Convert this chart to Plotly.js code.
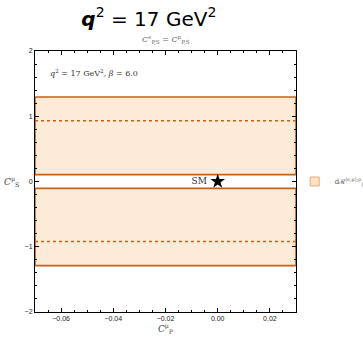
<!DOCTYPE html>
<html><head><meta charset="utf-8">
<script src="https://cdn.plot.ly/plotly-3.0.1.min.js"></script>
<style>html,body{margin:0;padding:0;background:#fff}#c{width:363px;height:340px}</style>
</head><body><div id="c"></div>
<script>
const xRange = [-0.07, 0.03];
const yRange = [-2, 2];
const bandLow = [-1.29, 0.105];
const bandHigh = [-0.105, 1.295];
const dashedLevels = [-0.92, 0.93];
const smPoint = {x: [0.0], y: [0.0]};
const xTickVals = [-0.06, -0.04, -0.02, 0.00, 0.02];
const yTickVals = [-2, -1, 0, 1, 2];

const orange = '#c2621b';
const fill = 'rgba(253,232,208,0.85)';
const traces = [];
bandLow.forEach((lo, i) => {
  const hi = bandHigh[i];
  traces.push({
    x: [xRange[0], xRange[1], xRange[1], xRange[0], xRange[0]],
    y: [lo, lo, hi, hi, lo],
    type: 'scatter', mode: 'lines', fill: 'toself', fillcolor: fill,
    line: {color: orange, width: 1.6},
    showlegend: false, hoverinfo: 'skip'
  });
});
dashedLevels.forEach(v => {
  traces.push({
    x: xRange, y: [v, v], type: 'scatter', mode: 'lines',
    line: {color: orange, width: 1.6, dash: 'dot'}, showlegend: false, hoverinfo: 'skip'
  });
});
traces.push({
  x: smPoint.x, y: smPoint.y, type: 'scatter', mode: 'markers+text',
  marker: {symbol: 'star', size: 11, color: '#000'},
  text: ['SM '], textposition: 'middle left',
  textfont: {family: 'DejaVu Serif, serif', size: 9, color: '#333'},
  showlegend: false, cliponaxis: false
});
// legend entry (square swatch)
traces.push({
  x: [null], y: [null], type: 'scatter', mode: 'markers',
  marker: {symbol: 'square', size: 9, color: 'rgb(252,226,200)', line: {color: 'rgb(235,170,120)', width: 1}},
  name: 'dℛ<sup>⟨e,μ⟩;ρ</sup><sub>⟨e,μ⟩;π</sub>', showlegend: true
});

const axisCommon = {
  showline: true, linecolor: '#000', linewidth: 1, mirror: 'ticks',
  ticks: 'inside', ticklen: 4, tickwidth: 1, tickcolor: '#000',
  showgrid: false, zeroline: false,
  tickfont: {family: 'Liberation Sans, Arial, sans-serif', size: 7, color: '#222'}
};

const layout = {
  width: 363, height: 340,
  margin: {l: 35, r: 67, t: 51, b: 28, autoexpand: false},
  paper_bgcolor: '#fff', plot_bgcolor: '#fff',
  title: {
    text: '<b><i>q</i></b><sup>2</sup> = 17 GeV<sup>2</sup>',
    font: {family: 'DejaVu Sans, sans-serif', size: 20, color: '#000'},
    x: 0.41, xanchor: 'center', y: 0.945, yanchor: 'middle', automargin: false
  },
  xaxis: Object.assign({}, axisCommon, {
    range: xRange, tickvals: xTickVals, tickformat: '.2f', automargin: false,
    minor: {dtick: 0.005, ticks: 'inside', ticklen: 2, tickcolor: '#000', tick0: 0},
    title: {text: '<i>C</i><sup>μ</sup><sub>P</sub>', standoff: 4,
      font: {family: 'DejaVu Serif, serif', size: 9, color: '#444'}}
  }),
  yaxis: Object.assign({}, axisCommon, {
    range: yRange, tickvals: yTickVals, automargin: false,
    minor: {dtick: 0.2, ticks: 'inside', ticklen: 2, tickcolor: '#000', tick0: 0}
  }),
  legend: {
    x: 0.995, xanchor: 'left', y: 0.5, yanchor: 'middle',
    font: {family: 'DejaVu Serif, serif', size: 7, color: '#555'},
    bgcolor: 'rgba(0,0,0,0)', itemwidth: 30
  },
  annotations: [
    {xref: 'paper', yref: 'paper', x: 0.5, y: 1.0, yshift: 12, xanchor: 'center', yanchor: 'middle',
      text: '<i>C</i><sup>e</sup><sub>P,S</sub> = <i>C</i><sup>μ</sup><sub>P,S</sub>', showarrow: false,
      font: {family: 'DejaVu Serif, serif', size: 8, color: '#666'}},
    {xref: 'paper', yref: 'paper', x: 0.05, y: 0.915, xanchor: 'left', yanchor: 'middle',
      text: '<i>q</i><sup>2</sup> = 17 GeV<sup>2</sup>, <i>β</i> = 6.0', showarrow: false,
      font: {family: 'DejaVu Serif, serif', size: 8, color: '#333'}},
    {xref: 'paper', yref: 'paper', x: -0.055, y: 0.5, xanchor: 'right', yanchor: 'middle',
      text: '<i>C</i><sup>μ</sup><sub>S</sub>', showarrow: false,
      font: {family: 'DejaVu Serif, serif', size: 9, color: '#444'}}
  ]
};
Plotly.newPlot('c', traces, layout, {staticPlot: true, displayModeBar: false});
</script></body></html>
